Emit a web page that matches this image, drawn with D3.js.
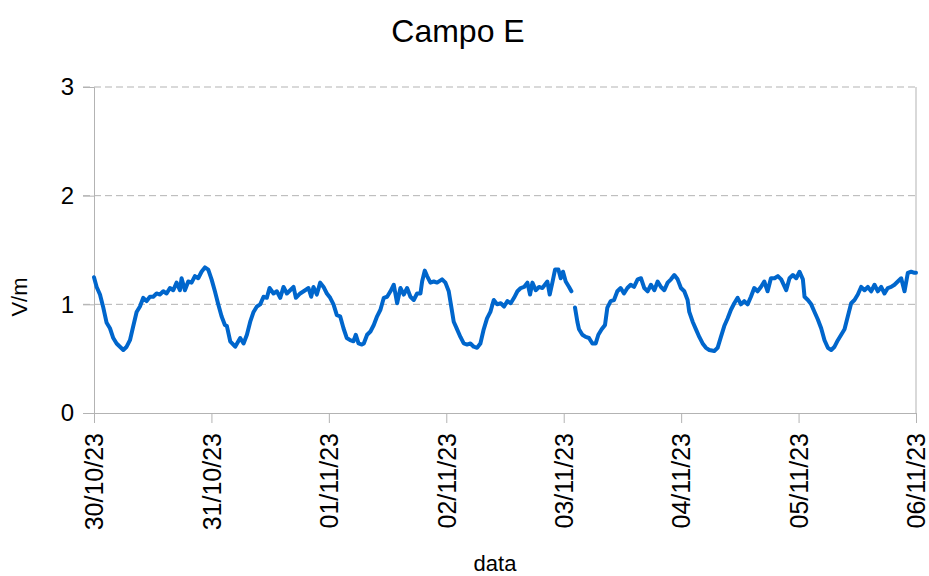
<!DOCTYPE html>
<html>
<head>
<meta charset="utf-8">
<script src="https://cdn.jsdelivr.net/npm/d3@7"></script>
<style>
  body { margin: 0; background: #fff; }
  text { font-family: "Liberation Sans", Arial, sans-serif; }
</style>
</head>
<body>
<div id="chart-area"></div>
<script>
// hours since 30/10/23 00:00, null = gap in the record
let hours = [0, 0.54, 1.22, 1.90, 2.58, 3.26, 3.94, 4.62, 5.30, 5.99, 6.67, 7.35, 8.03, 8.71, 9.39, 10.07, 10.75, 11.43, 12.11, 12.79, 13.47, 14.16, 14.84, 15.52, 16.20, 16.88, 17.56, 17.90, 18.58, 19.26, 19.94, 20.62, 21.30, 21.98, 22.67, 23.35, 24.03, 24.71, 25.39, 26.07, 26.75,
  27.16, 27.84, 28.86, 29.88, 30.57, 31.25, 31.93, 32.61, 33.29, 33.97, 34.65, 35.33, 35.88, 36.69, 37.37, 38.06, 38.74, 39.42, 40.10, 40.78, 41.26, 42.14, 43.16, 43.84, 44.39, 44.86, 45.54, 46.23, 46.91, 47.59, 48.27, 48.95, 49.63, 50.31, 50.99, 51.67, 52.35, 53.03, 53.51, 54.06, 54.74,
  55.14, 55.82, 56.50, 57.18, 57.86, 58.54, 59.23, 59.91, 60.59, 61.27, 61.95, 62.63, 63.31, 63.99, 64.67, 65.35, 66.03, 66.72, 67.06, 67.60, 68.08, 68.76, 69.44, 70.12, 71.14, 71.82, 72.50, 73.05, 73.52, 74.21, 74.89, 75.57, 76.25, 76.93, 77.61, 78.29, 78.97, 79.65, 80.33, 81.01, 81.70, 82.38,
  83.13, 83.81, 84.49, 85.17, 85.85, 86.54, 87.22, 87.90, 88.58, 89.12, 89.60, 90.28, 90.96, 91.64, 92.66, 93.14, 93.68, 94.23, 94.91, 95.39, 95.86, 96.41, 97.09, 97.57, 97.9, 98.31, 98.79, 99.13, 99.81, 100.49, 101.17, 101.86, 102.54, 103.08, 103.76, 104.44, 104.92, 105.60, 106.28, 106.96, 107.64, 108.32, 109.01, 109.69, 110.37,
  111.11, 111.79, 112.47, 113.15, 113.83, 114.52, 115.20, 115.88, 116.56, 117.24, 117.92, 118.60, 119.28, 119.96, 120.64, 121.32, 121.66, 122.35, 123.03, 123.71, 124.39, 125.07, 125.75, 126.77, 127.45, 128.13, 128.81, 129.49, 130.18, 130.86, 131.54, 132.22, 132.90, 133.58, 134.26, 134.94, 135.62, 136.30, 136.99, 137.67, 138.35,
  139.09, 139.77, 140.45, 141.47, 142.15, 142.84, 143.52, 144.20, 144.88, 145.22, 145.90, 146.58, 147.26, 147.94, 148.62, 149.30, 149.99, 150.67, 151.35, 152.03, 152.71, 153.39, 154.07, 154.75, 155.43, 156.11, 156.79, 157.48, 158.16, 158.84, 159.52, 160.20, 160.88, 161.56, 162.24, 162.92, 163.60, 164.28, 164.97, 165.65, 166.33, 167.01, 167.69, 168];

let fieldE = [1.25, 1.16, 1.09, 0.97, 0.83, 0.78, 0.69, 0.64, 0.61, 0.58, 0.61, 0.67, 0.80, 0.93, 0.98, 1.06, 1.03, 1.07, 1.07, 1.10, 1.09, 1.12, 1.10, 1.15, 1.13, 1.20, 1.13, 1.24, 1.13, 1.21, 1.20, 1.26, 1.24, 1.30, 1.34, 1.32, 1.23, 1.12, 1.00, 0.89, 0.81,
  0.80, 0.66, 0.61, 0.69, 0.64, 0.72, 0.84, 0.93, 0.98, 1.00, 1.07, 1.06, 1.15, 1.10, 1.12, 1.06, 1.16, 1.10, 1.13, 1.16, 1.06, 1.10, 1.13, 1.15, 1.07, 1.16, 1.09, 1.20, 1.16, 1.10, 1.06, 1.00, 0.90, 0.89, 0.78, 0.69, 0.67, 0.66, 0.72, 0.64, 0.63,
  0.64, 0.72, 0.75, 0.81, 0.89, 0.95, 1.06, 1.07, 1.12, 1.18, 1.01, 1.15, 1.09, 1.15, 1.07, 1.04, 1.10, 1.10, 1.21, 1.31, 1.26, 1.20, 1.21, 1.20, 1.23, 1.20, 1.12, 0.97, 0.84, 0.77, 0.70, 0.64, 0.63, 0.64, 0.61, 0.60, 0.64, 0.77, 0.87, 0.93, 1.04, 1.00,
  1.01, 0.98, 1.03, 1.01, 1.06, 1.12, 1.15, 1.16, 1.20, 1.09, 1.20, 1.13, 1.16, 1.15, 1.21, 1.09, 1.20, 1.32, 1.32, 1.24, 1.30, 1.21, 1.16, 1.12, null, 0.97, 0.84, 0.77, 0.72, 0.70, 0.69, 0.64, 0.64, 0.72, 0.77, 0.81, 0.97, 1.03, 1.04, 1.12, 1.15, 1.10, 1.15, 1.18, 1.16,
  1.23, 1.24, 1.15, 1.12, 1.18, 1.13, 1.21, 1.16, 1.13, 1.20, 1.23, 1.27, 1.23, 1.15, 1.12, 1.04, 0.93, 0.84, 0.77, 0.70, 0.64, 0.60, 0.58, 0.57, 0.60, 0.70, 0.80, 0.87, 0.95, 1.01, 1.06, 1.00, 1.03, 1.00, 1.07, 1.15, 1.12, 1.16, 1.21, 1.12, 1.24,
  1.24, 1.26, 1.23, 1.13, 1.24, 1.27, 1.24, 1.30, 1.23, 1.07, 1.04, 1.00, 0.93, 0.86, 0.78, 0.67, 0.60, 0.58, 0.61, 0.67, 0.72, 0.77, 0.89, 1.01, 1.04, 1.09, 1.16, 1.13, 1.16, 1.12, 1.18, 1.12, 1.16, 1.10, 1.15, 1.16, 1.18, 1.21, 1.24, 1.12, 1.29, 1.30, 1.29, 1.29];

let dayLabels = ["30/10/23", "31/10/23", "01/11/23", "02/11/23", "03/11/23", "04/11/23", "05/11/23", "06/11/23"];
let yTicks = [0, 1, 2, 3];

let width = 929, height = 576;
let plotLeft = 94, plotRight = 916, plotTop = 87, plotBottom = 413;

let svg = d3.select("#chart-area").append("svg")
	.attr("width", width)
	.attr("height", height);

let x = d3.scaleLinear()
	.domain([0, 24 * (dayLabels.length - 1)])
	.range([plotLeft, plotRight]);

let y = d3.scaleLinear()
	.domain([0, 3])
	.range([plotBottom, plotTop]);

// gridlines (dashed), with short outer ticks on the left
svg.append("g").selectAll("line").data(yTicks.filter((d) => d > 0)).enter()
	.append("line")
	.attr("x1", plotLeft - 11)
	.attr("x2", plotRight)
	.attr("y1", (d) => y(d))
	.attr("y2", (d) => y(d))
	.attr("stroke", "#b3b3b3")
	.attr("stroke-width", 1)
	.attr("stroke-dasharray", "7,4");

// right frame line
svg.append("line")
	.attr("x1", plotRight).attr("x2", plotRight)
	.attr("y1", plotTop).attr("y2", plotBottom)
	.attr("stroke", "#b3b3b3");

// y axis
let yAxis = svg.append("g")
	.attr("transform", `translate(${plotLeft},0)`)
	.call(d3.axisLeft(y).tickValues(yTicks).tickFormat(d3.format("d")).tickSize(11).tickPadding(9));
yAxis.select(".domain").attr("stroke", "#b3b3b3");
yAxis.selectAll(".tick line").attr("stroke", "#b3b3b3");
yAxis.selectAll("text")
	.attr("font-size", 24)
	.attr("font-family", "Liberation Sans, Arial, sans-serif")
	.attr("fill", "#000");

// x axis
let xAxis = svg.append("g")
	.attr("transform", `translate(0,${plotBottom})`)
	.call(d3.axisBottom(x)
		.tickValues(d3.range(0, 24 * dayLabels.length, 24))
		.tickFormat((d, i) => dayLabels[i])
		.tickSize(10));
xAxis.select(".domain").attr("stroke", "#b3b3b3");
xAxis.selectAll(".tick line").attr("stroke", "#b3b3b3");
xAxis.selectAll("text")
	.attr("font-size", 25)
	.attr("font-family", "Liberation Sans, Arial, sans-serif")
	.attr("fill", "#000")
	.attr("text-anchor", "end")
	.attr("transform", "translate(0,20) rotate(-90)")
	.attr("x", 0)
	.attr("y", 0)
	.attr("dy", "0.35em");

// data line
let points = hours.map((h, i) => ({h: h, v: fieldE[i]}));
let line = d3.line()
	.defined((d) => d.v !== null)
	.x((d) => x(d.h))
	.y((d) => y(d.v));

svg.append("path")
	.datum(points)
	.attr("d", line)
	.attr("fill", "none")
	.attr("stroke", "#0066cc")
	.attr("stroke-width", 4)
	.attr("stroke-linejoin", "round")
	.attr("stroke-linecap", "round");

// title and axis titles
svg.append("text")
	.attr("x", 458)
	.attr("y", 42)
	.attr("text-anchor", "middle")
	.attr("font-size", 32)
	.text("Campo E");

svg.append("text")
	.attr("x", 495)
	.attr("y", 571)
	.attr("text-anchor", "middle")
	.attr("font-size", 22)
	.text("data");

svg.append("text")
	.attr("transform", "translate(27,297) rotate(-90)")
	.attr("text-anchor", "middle")
	.attr("font-size", 22)
	.text("V/m");
</script>
</body>
</html>
